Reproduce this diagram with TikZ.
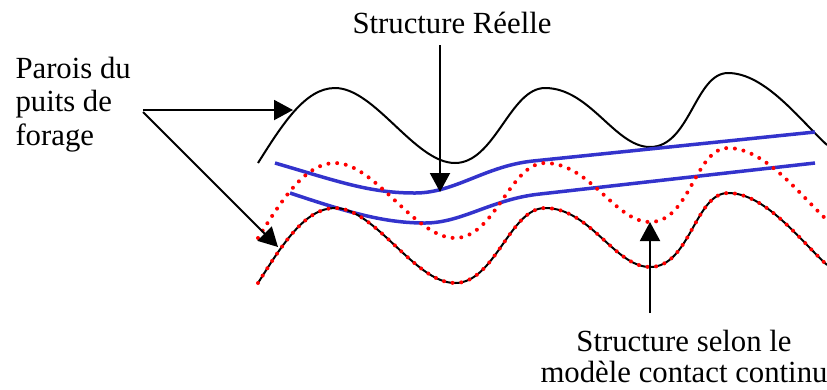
\documentclass[tikz,border=0pt]{standalone}
\usepackage{fontspec}
\setmainfont{Liberation Serif}
\usetikzlibrary{arrows.meta}
\definecolor{realblue}{RGB}{51,51,204}
\tikzset{
  pics/wave/.style={code={
    \draw[#1] (258,238) .. controls (282,200) and (305,163) .. (335,163)
      .. controls (375,163) and (415,238) .. (455,238)
      .. controls (495,238) and (510,163) .. (545,163)
      .. controls (590,163) and (615,222) .. (650,222)
      .. controls (690,222) and (695,148) .. (728,148)
      .. controls (765,148) and (800,195) .. (827,220);
  }}
}
\begin{document}
\begin{tikzpicture}[x=0.4pt,y=-0.4pt,
  wall/.style={black,line width=0.8pt},
  contact/.style={red,line width=1.6pt,dash pattern=on 0pt off 3.5pt,line cap=round},
  real/.style={draw=realblue,line width=1.4pt},
  pointer/.style={line width=0.8pt,-{Triangle[width=8pt,length=7.6pt]}},
  lbl/.style={inner sep=0pt,font=\fontsize{12.3}{13.4}\selectfont}]
\useasboundingbox (0,0) rectangle (827,389);

% walls and structures
\pic at (0,-75) {wave=wall};
\draw[real] (275,163) .. controls (340,182) and (370,193) .. (415,193)
  .. controls (455,193) and (485,166) .. (533,161) -- (815,132);
\draw[real] (290,193) .. controls (350,213) and (385,223) .. (425,223)
  .. controls (462,223) and (492,199) .. (540,194) -- (815,163);
\pic {wave=contact};
\pic at (0,45) {wave=wall};
\pic at (0,45) {wave=contact};

% labels
\node[lbl,anchor=base] (reallbl) at (452,33) {Structure Réelle};
\node[lbl,anchor=base west,align=left] (walls) at (15,145) {Parois du\\puits de\\forage};
\node[lbl,anchor=base,align=center,font=\fontsize{12.3}{12.3}\selectfont] (model) at (684,382) {Structure selon le\\modèle contact continu};

% arrow ends
\coordinate (realstart) at (440,45);
\coordinate (realtip) at (440,192);
\coordinate (wallstart) at (143,110);
\coordinate (walltipA) at (293,110);
\coordinate (wallstartB) at (143,112);
\coordinate (walltipB) at (278,247);
\coordinate (modelstart) at (650,313);
\coordinate (modeltip) at (650,222);

\draw[pointer] (realstart) -- (realtip);
\draw[pointer] (wallstart) -- (walltipA);
\draw[pointer] (wallstartB) -- (walltipB);
\draw[pointer] (modelstart) -- (modeltip);
\end{tikzpicture}
\end{document}
